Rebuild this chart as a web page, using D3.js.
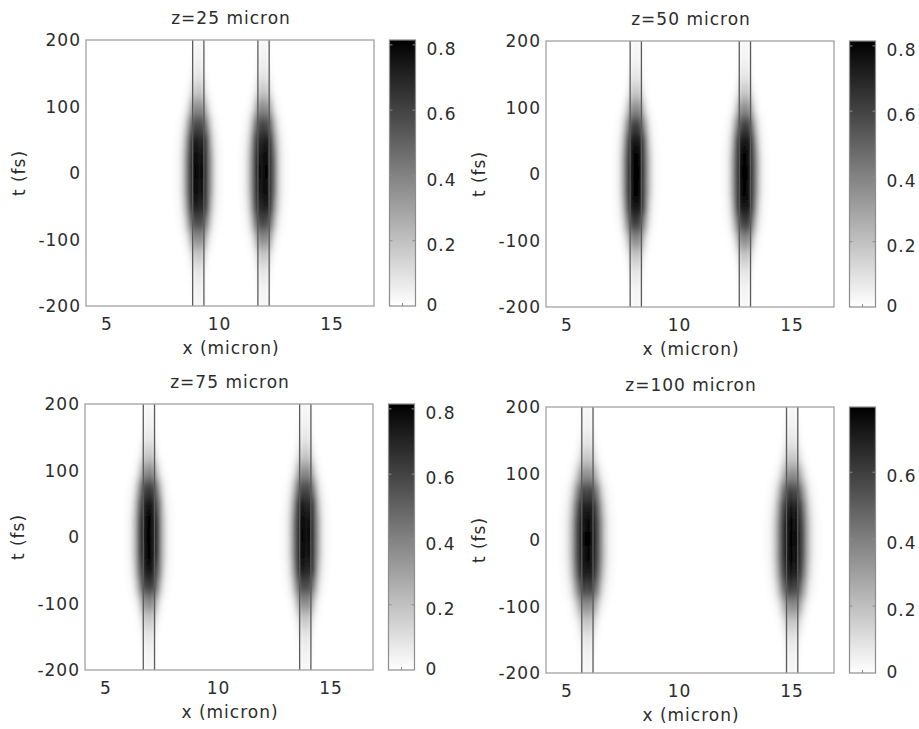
<!DOCTYPE html>
<html>
<head>
<meta charset="utf-8">
<script src="https://cdn.jsdelivr.net/npm/d3@7"></script>
<style>
    body { margin: 0; background: #ffffff; }
    text { font-family: "DejaVu Sans", sans-serif; font-size: 17px; fill: #2c2c2c; letter-spacing: 1px; }
</style>
</head>
<body>
<svg id="chart" width="919" height="729"></svg>
<script>
const titles = ["z=25 micron", "z=50 micron", "z=75 micron", "z=100 micron"];

// waveguide edges in micron, two guides per panel
const guideEdges = [
    [[8.85, 9.35], [11.75, 12.25]],
    [[7.85, 8.35], [12.7, 13.2]],
    [[6.7, 7.2], [13.65, 14.15]],
    [[5.7, 6.2], [14.8, 15.3]]
];
// peak intensity of the pulse in each guide
const peakValues = [[0.81, 0.81], [0.81, 0.81], [0.81, 0.81], [0.79, 0.79]];
// top of each colour bar
const colorMax = [0.815, 0.815, 0.815, 0.795];
// how wide the pulse spreads across the guide, per panel
const spread = [1, 0.95, 1, 1.15];

// pulse shape along t (fs), relative to peak
const tSamples = [-200, -175, -150, -125, -100, -75, -50, -25, 0, 25, 50, 75, 100, 125, 150, 175, 200];
const tProfile = [0.03, 0.05, 0.1, 0.22, 0.46, 0.76, 0.93, 0.99, 1, 0.99, 0.93, 0.76, 0.46, 0.22, 0.1, 0.05, 0.03];
// transverse width of the pulse at each t, relative to t = 0
const tWidth = [0.42, 0.46, 0.52, 0.62, 0.75, 0.88, 0.96, 1, 1, 1, 0.96, 0.88, 0.75, 0.62, 0.52, 0.46, 0.42];

// pulse shape across a guide (micron from guide centre), relative to peak
const xOffsets = [-1.2, -1.1, -1.0, -0.9, -0.8, -0.7, -0.6, -0.5, -0.4, -0.3, -0.2, -0.1, 0,
                  0.1, 0.2, 0.3, 0.4, 0.5, 0.6, 0.7, 0.8, 0.9, 1.0, 1.1, 1.2];
const xProfile = [0, 0.01, 0.02, 0.04, 0.09, 0.18, 0.32, 0.5, 0.7, 0.85, 0.95, 0.99, 1,
                  0.99, 0.95, 0.85, 0.7, 0.5, 0.32, 0.18, 0.09, 0.04, 0.02, 0.01, 0];

const xTicks = [5, 10, 15];
const yTicks = [-200, -100, 0, 100, 200];
const cbTicks = [0, 0.2, 0.4, 0.6, 0.8];

const origins = [[0, 0], [460, 1], [-1, 364], [460, 367]];
const plotW = 288, plotH = 266;
const frameColor = "#a2a2a2";
const guideColor = "#5a5a5a";

const svg = d3.select("#chart");
const defs = svg.append("defs");

const xScale = d3.scaleLinear().domain([4.11, 16.91]).range([0, plotW]);
const yScale = d3.scaleLinear().domain([-200, 200]).range([plotH, 0]);
const cbScale = d3.scaleLinear().range([plotH, 0]);

const tStep = 25, xStep = 0.1;

titles.forEach((title, p) => {
    const [ox, oy] = origins[p];
    const color = d3.scaleLinear().domain([0, colorMax[p]]).range(["#ffffff", "#000000"]).clamp(true);

    // blur so the sampled grid reads as a smooth field
    defs.append("filter")
        .attr("id", "blur" + p)
        .attr("filterUnits", "userSpaceOnUse")
        .attr("x", -40).attr("y", -40).attr("width", plotW + 80).attr("height", plotH + 80)
        .append("feGaussianBlur")
        .attr("stdDeviation", "1.3 6");
    defs.append("clipPath")
        .attr("id", "clip" + p)
        .append("rect")
        .attr("width", plotW).attr("height", plotH);

    const g = svg.append("g").attr("transform", `translate(${ox + 86},${oy + 40})`);

    // cells
    const cells = [];
    guideEdges[p].forEach((edge, gi) => {
        const centre = (edge[0] + edge[1]) / 2;
        tSamples.forEach((t, ti) => {
            const w = spread[p] * tWidth[ti];
            xOffsets.forEach((off, xi) => {
                cells.push({
                    x: centre + off * w,
                    w: xStep * w,
                    t: t,
                    v: peakValues[p][gi] * tProfile[ti] * xProfile[xi]
                });
            });
        });
    });

    const field = g.append("g").attr("clip-path", `url(#clip${p})`)
        .append("g").attr("filter", `url(#blur${p})`);
    field.append("rect")
        .attr("x", -40).attr("y", -40)
        .attr("width", plotW + 80).attr("height", plotH + 80)
        .attr("fill", "#ffffff");
    field.selectAll("rect.cell")
        .data(cells.filter(d => d.v > 0))
        .join("rect")
        .attr("class", "cell")
        .attr("x", d => xScale(d.x - d.w / 2))
        .attr("width", d => xScale(d.x + d.w / 2) - xScale(d.x - d.w / 2) + 0.3)
        .attr("y", d => yScale(d.t + tStep / 2))
        .attr("height", yScale(-200) - yScale(-200 + tStep) + 0.3)
        .attr("fill", d => color(d.v));

    // waveguide walls
    const walls = guideEdges[p].flat();
    g.selectAll("line.wall")
        .data(walls)
        .join("line")
        .attr("class", "wall")
        .attr("x1", d => xScale(d)).attr("x2", d => xScale(d))
        .attr("y1", 0).attr("y2", plotH)
        .attr("stroke", guideColor)
        .attr("stroke-width", 1.3);

    // frame
    g.append("rect")
        .attr("width", plotW).attr("height", plotH)
        .attr("fill", "none")
        .attr("stroke", frameColor)
        .attr("stroke-width", 1.3);

    // tick labels
    g.selectAll("text.xt")
        .data(xTicks)
        .join("text")
        .attr("class", "xt")
        .attr("x", d => xScale(d) + 1)
        .attr("y", plotH + 24)
        .attr("text-anchor", "middle")
        .text(d => d);

    g.selectAll("text.yt")
        .data(yTicks)
        .join("text")
        .attr("class", "yt")
        .attr("x", -5)
        .attr("y", d => yScale(d))
        .attr("dy", "0.36em")
        .attr("text-anchor", "end")
        .text(d => d);

    g.append("text")
        .attr("x", plotW / 2 + 1)
        .attr("y", -16)
        .attr("text-anchor", "middle")
        .text(title);

    g.append("text")
        .attr("x", plotW / 2 + 1)
        .attr("y", plotH + 48)
        .attr("text-anchor", "middle")
        .text("x (micron)");

    g.append("text")
        .attr("transform", `translate(-61,${plotH / 2}) rotate(-90)`)
        .attr("text-anchor", "middle")
        .text("t (fs)");

    // colour bar
    cbScale.domain([0, colorMax[p]]);
    const grad = defs.append("linearGradient")
        .attr("id", "cb" + p)
        .attr("x1", 0).attr("y1", 1).attr("x2", 0).attr("y2", 0);
    grad.selectAll("stop")
        .data(d3.range(0, 1.0001, 0.1))
        .join("stop")
        .attr("offset", d => d)
        .attr("stop-color", d => color(d * colorMax[p]));

    const cb = svg.append("g").attr("transform", `translate(${ox + 389.5},${oy + 40})`);
    cb.append("rect")
        .attr("width", 26).attr("height", plotH)
        .attr("fill", `url(#cb${p})`)
        .attr("stroke", "#8c8c8c")
        .attr("stroke-width", 1.2);

    const shown = cbTicks.filter(v => v <= colorMax[p]);
    cb.selectAll("path.tk")
        .data(shown.filter(v => v > 0))
        .join("path")
        .attr("class", "tk")
        .attr("d", v => `M0,${cbScale(v)}h3M26,${cbScale(v)}h-3`)
        .attr("stroke", "#8c8c8c")
        .attr("stroke-width", 1);
    cb.selectAll("path.bt")
        .data([0, 13, 26])
        .join("path")
        .attr("class", "bt")
        .attr("d", d => `M${d},${plotH}v-3`)
        .attr("stroke", "#8c8c8c")
        .attr("stroke-width", 1);

    cb.selectAll("text.cbt")
        .data(shown)
        .join("text")
        .attr("class", "cbt")
        .attr("x", 37)
        .attr("y", v => cbScale(v) + (v === 0 ? -1 : 4))
        .attr("dy", "0.36em")
        .text(v => v === 0 ? "0" : v.toFixed(1));
});
</script>
</body>
</html>
